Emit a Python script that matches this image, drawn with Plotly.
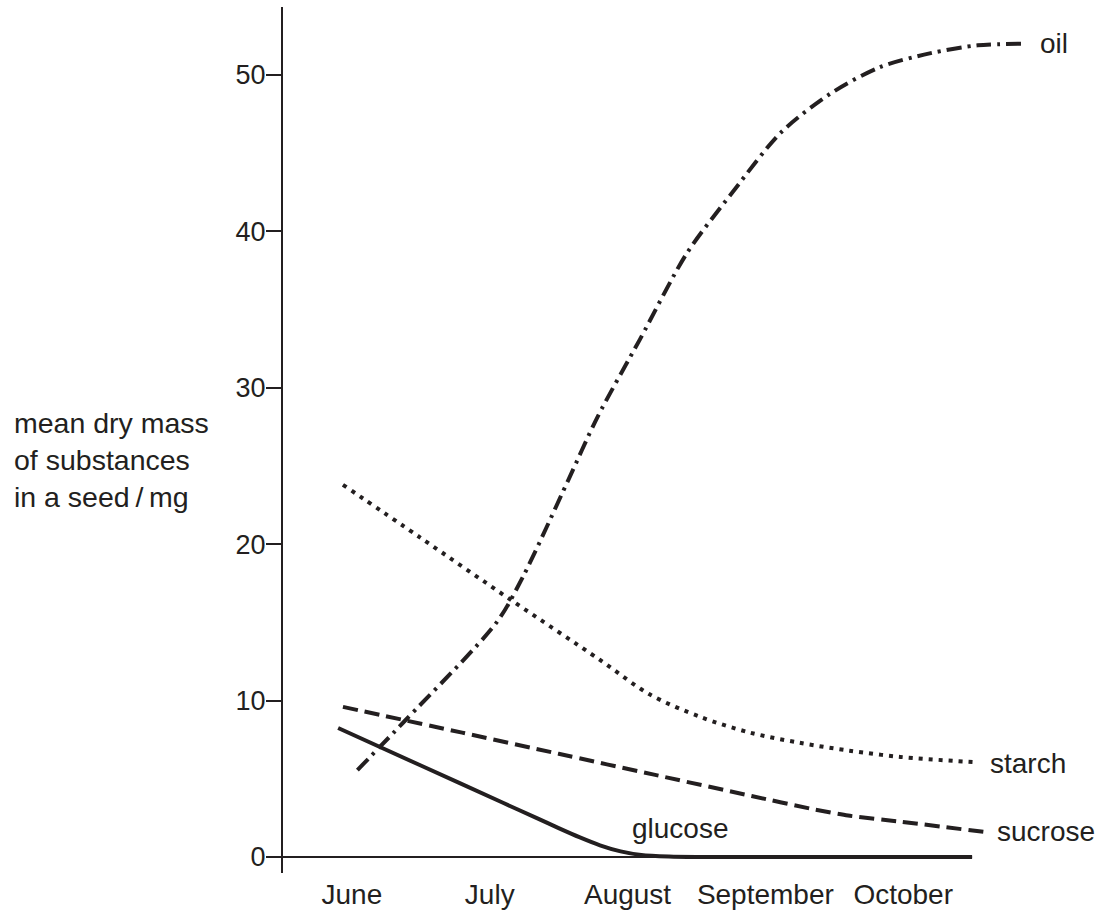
import plotly.graph_objects as go

# ---- data (time in months after the start of June) ----
months = ["June", "July", "August", "September", "October"]
y_ticks = [0, 10, 20, 30, 40, 50]

glucose_t = [0.40, 1.00, 1.60, 1.85, 2.00, 2.15, 2.30, 2.45, 2.60, 2.80, 3.00, 4.00, 5.00]
glucose_v = [8.25, 5.85, 3.45, 2.45, 1.85, 1.27, 0.75, 0.36, 0.13, 0.03, 0.0, 0.0, 0.0]

sucrose_t = [0.435, 1.30, 2.00, 2.70, 3.40, 3.85, 4.10, 4.48, 5.09]
sucrose_v = [9.60, 7.95, 6.60, 5.25, 3.90, 3.05, 2.65, 2.26, 1.60]

starch_t = [0.435, 1.00, 1.66, 2.30, 2.66, 3.03, 3.39, 3.75, 4.11, 4.48, 5.04]
starch_v = [23.8, 20.4, 16.4, 12.6, 10.4, 8.95, 7.95, 7.3, 6.8, 6.4, 6.05]

oil_t = [0.54, 0.89, 1.55, 1.74, 2.07, 2.28, 2.59, 2.93, 3.27, 3.61, 3.97, 4.33, 4.70, 5.04, 5.40]
oil_v = [5.56, 8.76, 15.0, 17.9, 24.1, 28.1, 33.1, 38.6, 42.6, 46.3, 48.8, 50.5, 51.4, 51.9, 52.0]

INK = "#231f20"
FONT = "Liberation Sans, Arial, Helvetica, sans-serif"
FS = 28

YMIN, YMAX = -1.023, 54.35
XMAX = 5.5
pos0 = (0 - YMIN) / (YMAX - YMIN)

fig = go.Figure()

def add_line(t, v, dash, smooth=0.8):
    fig.add_trace(go.Scatter(
        x=t, y=v, mode="lines",
        line=dict(color=INK, width=4, dash=dash, shape="spline", smoothing=smooth),
        hoverinfo="skip", showlegend=False,
    ))

add_line(glucose_t, glucose_v, "solid", 0.8)
add_line(sucrose_t, sucrose_v, "15px,7px", 0.6)
add_line(starch_t, starch_v, "4px,6px", 0.9)
add_line(oil_t, oil_v, "15px,6px,3px,6px", 0.8)

# x baseline (axis line from June to end of October)
fig.add_shape(type="line", xref="x", yref="y", x0=0, x1=len(months), y0=0, y1=0,
              line=dict(color=INK, width=2))

# series labels
labels = [
    ("oil", 5.48, 52.0),
    ("starch", 5.115, 6.0),
    ("sucrose", 5.165, 1.6),
    ("glucose", 2.52, 1.85),
]
for txt, lx, ly in labels:
    fig.add_annotation(x=lx, y=ly, xref="x", yref="y", text=txt, showarrow=False,
                       xanchor="left", yanchor="middle",
                       font=dict(family=FONT, size=FS, color=INK))

# y-axis title
fig.add_annotation(x=(12 - 283) / 758, y=25.4, xref="paper", yref="y",
                   text="mean dry mass<br>of substances<br>in a seed\u2009/\u2009mg",
                   showarrow=False, xanchor="left", yanchor="middle", align="left",
                   font=dict(family=FONT, size=28.5, color=INK))

fig.update_layout(
    template="none",
    width=1101, height=913,
    margin=dict(l=283, r=60, t=7, b=40, autoexpand=False),
    paper_bgcolor="white", plot_bgcolor="white",
    xaxis=dict(
        range=[0, XMAX], anchor="free", position=pos0, automargin=False,
        tickmode="array", tickvals=[i + 0.5 for i in range(len(months))], ticktext=months,
        ticks="outside", ticklen=12, tickcolor="rgba(0,0,0,0)",
        tickfont=dict(family=FONT, size=FS, color=INK),
        showline=False, showgrid=False, zeroline=False, fixedrange=True,
    ),
    xaxis2=dict(
        range=[0, XMAX], overlaying="x", anchor="free", position=pos0, automargin=False,
        tickmode="array", tickvals=list(range(len(months) + 1)),
        ticks="outside", ticklen=15, tickwidth=2, tickcolor=INK,
        showticklabels=False, showline=False, showgrid=False, zeroline=False,
    ),
    yaxis=dict(
        range=[YMIN, YMAX], tickmode="array", tickvals=y_ticks, automargin=False,
        ticks="outside", ticklen=15, tickwidth=2, tickcolor=INK,
        showline=True, linewidth=2, linecolor=INK,
        showgrid=False, zeroline=False,
        tickfont=dict(family=FONT, size=27, color=INK), ticklabelstandoff=-5,
    ),
)

fig.write_html(
    "out.html",
    config={"displayModeBar": False, "staticPlot": True},
    post_script="document.body.style.margin='0';document.body.style.overflow='hidden';",
)
